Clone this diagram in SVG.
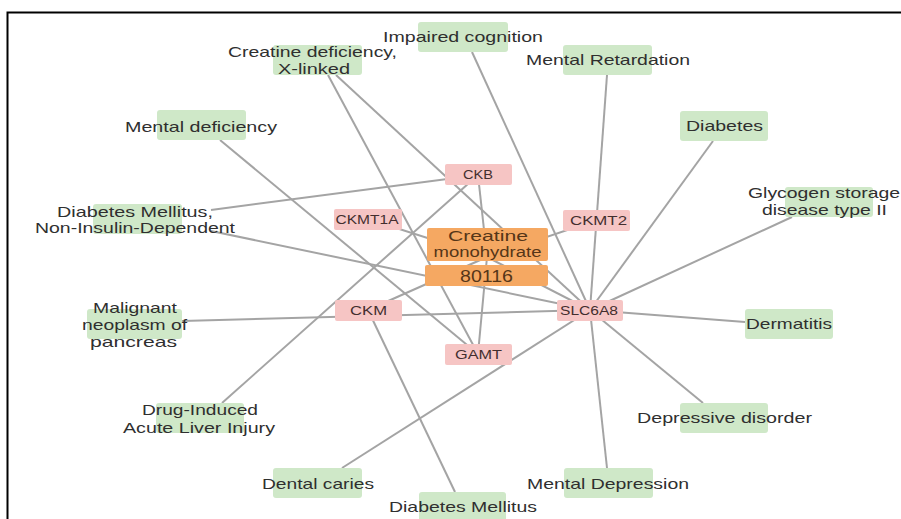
<svg xmlns="http://www.w3.org/2000/svg" width="901" height="519" viewBox="0 0 901 519">
<style>
text{font-family:"Liberation Sans",Arial,sans-serif;text-anchor:middle;fill:#2f2f2f}
.d rect{fill:#cfe8c8}
.g rect{fill:#f6c5c4}
.o rect{fill:#f5a862}
.d text{font-size:15px}
.g text{font-size:12px;fill:#432e2e}
.o text{font-size:14px;fill:#553618}
#edges line{stroke:#a4a4a4;stroke-width:2}
</style>
<rect width="901" height="519" fill="#fff"/>
<path d="M901,12.5H7.5V519" fill="none" stroke="#000" stroke-width="2"/>
<g id="edges">
<line x1="472" y1="52" x2="590" y2="310"/>
<line x1="607" y1="75" x2="590" y2="310"/>
<line x1="713" y1="141" x2="590" y2="310"/>
<line x1="792" y1="217" x2="590" y2="310"/>
<line x1="745" y1="322" x2="590" y2="310"/>
<line x1="703" y1="403" x2="590" y2="310"/>
<line x1="607" y1="468" x2="590" y2="310"/>
<line x1="342" y1="468" x2="590" y2="310"/>
<line x1="455" y1="492" x2="368" y2="310"/>
<line x1="222" y1="403" x2="478" y2="175"/>
<line x1="182" y1="321" x2="590" y2="310"/>
<line x1="220" y1="140" x2="478" y2="354"/>
<line x1="211" y1="210" x2="478" y2="175"/>
<line x1="211" y1="231" x2="590" y2="310"/>
<line x1="328" y1="75" x2="478" y2="354"/>
<line x1="336" y1="75" x2="590" y2="310"/>
<line x1="478" y1="175" x2="487" y2="257"/>
<line x1="368" y1="219" x2="487" y2="257"/>
<line x1="597" y1="220" x2="487" y2="257"/>
<line x1="368" y1="310" x2="487" y2="257"/>
<line x1="478" y1="354" x2="487" y2="257"/>
<line x1="590" y1="310" x2="487" y2="257"/>
</g>
<g id="drug" class="o">
<rect x="427" y="228" width="121" height="33" rx="2"/>
<rect x="425" y="265" width="123" height="21" rx="2"/>
<text x="488" y="241" textLength="80" lengthAdjust="spacingAndGlyphs">Creatine</text>
<text x="487.5" y="257" textLength="108" lengthAdjust="spacingAndGlyphs">monohydrate</text>
<text x="486.5" y="282" style="font-size:16px" textLength="53" lengthAdjust="spacingAndGlyphs">80116</text>
</g>
<g id="ckb" class="g"><rect x="445" y="164" width="67" height="21" rx="2"/><text x="478" y="179" textLength="30" lengthAdjust="spacingAndGlyphs">CKB</text></g>
<g id="ckmt1a" class="g"><rect x="334" y="209" width="68" height="21" rx="2"/><text x="367" y="224" textLength="63" lengthAdjust="spacingAndGlyphs">CKMT1A</text></g>
<g id="ckmt2" class="g"><rect x="563" y="210" width="67" height="21" rx="2"/><text x="598.5" y="225" textLength="57" lengthAdjust="spacingAndGlyphs">CKMT2</text></g>
<g id="ckm" class="g"><rect x="335" y="300" width="67" height="21" rx="2"/><text x="368.5" y="315" textLength="37" lengthAdjust="spacingAndGlyphs">CKM</text></g>
<g id="gamt" class="g"><rect x="445" y="344" width="67" height="21" rx="2"/><text x="478.5" y="359" textLength="47" lengthAdjust="spacingAndGlyphs">GAMT</text></g>
<g id="slc6a8" class="g"><rect x="557" y="300" width="66" height="21" rx="2"/><text x="589" y="315" textLength="58" lengthAdjust="spacingAndGlyphs">SLC6A8</text></g>
<g id="impaired-cognition" class="d"><rect x="418" y="22" width="90" height="30" rx="3"/><text x="463" y="42" textLength="160" lengthAdjust="spacingAndGlyphs">Impaired cognition</text></g>
<g id="mental-retardation" class="d"><rect x="563" y="45" width="89" height="30" rx="3"/><text x="608" y="65" textLength="164" lengthAdjust="spacingAndGlyphs">Mental Retardation</text></g>
<g id="creatine-deficiency" class="d"><rect x="273" y="45" width="89" height="30" rx="3"/><text x="312.5" y="57" textLength="169" lengthAdjust="spacingAndGlyphs">Creatine deficiency,</text><text x="314" y="74" textLength="72" lengthAdjust="spacingAndGlyphs">X-linked</text></g>
<g id="mental-deficiency" class="d"><rect x="157" y="110" width="89" height="30" rx="3"/><text x="201" y="132" textLength="152" lengthAdjust="spacingAndGlyphs">Mental deficiency</text></g>
<g id="niddm" class="d"><rect x="93" y="204" width="89" height="30" rx="3"/><text x="135" y="217" textLength="156" lengthAdjust="spacingAndGlyphs">Diabetes Mellitus,</text><text x="135" y="233" textLength="200" lengthAdjust="spacingAndGlyphs">Non-Insulin-Dependent</text></g>
<g id="diabetes" class="d"><rect x="680" y="111" width="88" height="30" rx="3"/><text x="724.5" y="131" textLength="77" lengthAdjust="spacingAndGlyphs">Diabetes</text></g>
<g id="glycogen" class="d"><rect x="785" y="187" width="88" height="30" rx="3"/><text x="824" y="198" textLength="152" lengthAdjust="spacingAndGlyphs">Glycogen storage</text><text x="824.5" y="215" textLength="125" lengthAdjust="spacingAndGlyphs">disease type II</text></g>
<g id="dermatitis" class="d"><rect x="745" y="309" width="88" height="30" rx="3"/><text x="789" y="329" textLength="86" lengthAdjust="spacingAndGlyphs">Dermatitis</text></g>
<g id="depressive-disorder" class="d"><rect x="680" y="403" width="88" height="30" rx="3"/><text x="724.5" y="423" textLength="175" lengthAdjust="spacingAndGlyphs">Depressive disorder</text></g>
<g id="mental-depression" class="d"><rect x="564" y="468" width="89" height="30" rx="3"/><text x="608" y="489" textLength="162" lengthAdjust="spacingAndGlyphs">Mental Depression</text></g>
<g id="diabetes-mellitus" class="d"><rect x="419" y="492" width="87" height="30" rx="3"/><text x="463" y="512" textLength="148" lengthAdjust="spacingAndGlyphs">Diabetes Mellitus</text></g>
<g id="dental-caries" class="d"><rect x="273" y="468" width="89" height="30" rx="3"/><text x="318" y="489" textLength="112" lengthAdjust="spacingAndGlyphs">Dental caries</text></g>
<g id="malignant-neoplasm" class="d"><rect x="87" y="309" width="95" height="30" rx="3"/><text x="135" y="313" textLength="84" lengthAdjust="spacingAndGlyphs">Malignant</text><text x="134.5" y="330" textLength="105" lengthAdjust="spacingAndGlyphs">neoplasm of</text><text x="133.5" y="347" textLength="87" lengthAdjust="spacingAndGlyphs">pancreas</text></g>
<g id="drug-induced-liver-injury" class="d"><rect x="156" y="403" width="88" height="30" rx="3"/><text x="200" y="415" textLength="116" lengthAdjust="spacingAndGlyphs">Drug-Induced</text><text x="199" y="433" textLength="152" lengthAdjust="spacingAndGlyphs">Acute Liver Injury</text></g>
</svg>
